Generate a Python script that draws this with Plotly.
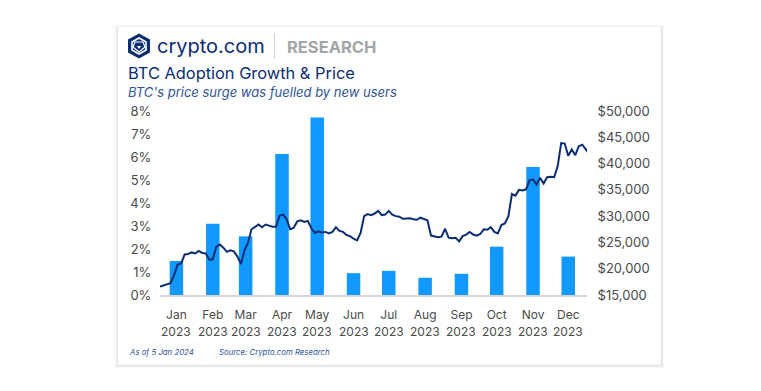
import pandas as pd
import plotly.graph_objects as go

months = ["Jan", "Feb", "Mar", "Apr", "May", "Jun", "Jul", "Aug", "Sep", "Oct", "Nov", "Dec"]
bar_dates = ["2023-01-15", "2023-02-15", "2023-03-15", "2023-04-15", "2023-05-15", "2023-06-15",
             "2023-07-15", "2023-08-15", "2023-09-15", "2023-10-15", "2023-11-15", "2023-12-15"]
adoption = [1.48, 3.1, 2.55, 6.13, 7.72, 0.95, 1.05, 0.75, 0.92, 2.1, 5.57, 1.67]
price = [16600, 16800, 17000, 17250, 18800, 20800, 21000, 22700, 22800, 23100, 22900, 23400,
         23000, 22900, 21700, 21800, 24200, 24600, 24000, 23200, 23500, 23300, 22300, 20900,
         23500, 24900, 27500, 27900, 28400, 27900, 28400, 28200, 28000, 28000, 30100, 30300,
         29400, 27500, 27800, 29000, 29200, 28900, 29100, 27700, 26800, 27100, 26900, 27000,
         26700, 27000, 27900, 27200, 27000, 26400, 26200, 25700, 25400, 26800, 30000, 30400,
         30200, 30500, 31000, 30200, 30300, 31000, 30300, 30000, 29900, 29500, 29500, 29600,
         29400, 29300, 29700, 29500, 29200, 26300, 26100, 26000, 26100, 27600, 25900, 25800,
         25900, 25200, 26200, 26500, 27000, 26500, 26300, 26600, 27500, 27400, 27900, 27000,
         26700, 28300, 28600, 30000, 34200, 33900, 35000, 34900, 35100, 36800, 37000, 36000,
         37300, 36200, 37400, 37500, 37400, 39500, 43900, 43800, 41500, 42700, 41600, 43300,
         43600, 42600, 41800]
price_dates = pd.date_range("2023-01-01", periods=len(price), freq="3D")
pct_ticks = [0, 1, 2, 3, 4, 5, 6, 7, 8]
usd_ticks = [15000, 20000, 25000, 30000, 35000, 40000, 45000, 50000]

FONT = "Inter, Lato, sans-serif"
L, R, T, B = 160, 587, 111, 295
W, H = 761, 391
px = lambda x: (x - L) / (R - L)
py = lambda y: (B - y) / (B - T)

fig = go.Figure()
fig.add_trace(go.Bar(x=bar_dates, y=adoption, marker_color="#1199FF", marker_line_width=0,
                     width=11.5 * 86400000, yaxis="y"))
fig.add_trace(go.Scatter(x=price_dates, y=price, mode="lines", yaxis="y2",
                         line=dict(color="#0B2D72", width=2)))

shapes = []
def rect(x0, y0, x1, y1, fill, line="rgba(0,0,0,0)", width=0):
    shapes.append(dict(type="rect", xref="paper", yref="paper", layer="below",
                       x0=px(x0), x1=px(x1), y0=py(y0), y1=py(y1), fillcolor=fill,
                       line=dict(color=line, width=width)))

for i, a in zip(range(4, 0, -1), [0.012, 0.02, 0.03, 0.05]):
    rect(118 - i, 27 - i + 1, 661 + i, 365 + i, f"rgba(0,0,0,{a})")
rect(118, 27, 661, 365, "white")

def path(points, fill="rgba(0,0,0,0)", line="rgba(0,0,0,0)", width=0, close=True):
    d = "M" + " L".join(f"{px(x):.5f},{py(y):.5f}" for x, y in points) + (" Z" if close else "")
    shapes.append(dict(type="path", xref="paper", yref="paper", layer="below", path=d,
                       fillcolor=fill, line=dict(color=line, width=width)))

path([(139, 33.5), (150, 39.5), (150, 52.5), (139, 58.5), (128, 52.5), (128, 39.5)], fill="#0B2D72")
path([(139, 38), (146, 42), (146, 50), (139, 54), (132, 50), (132, 42)], line="white", width=1.6)
path([(135, 42), (143, 42), (145, 47), (139, 52), (133, 47)], fill="#0B2D72", line="white", width=1.2)
path([(137, 46), (141, 46), (139, 49)], fill="white")
shapes.append(dict(type="line", xref="paper", yref="paper", layer="below",
                   x0=px(274.5), x1=px(274.5), y0=py(33), y1=py(59), line=dict(color="#D0D0D0", width=1)))

def label(x, y, text, size, color, anchor="left", **kw):
    return dict(xref="paper", yref="paper", x=px(x), y=py(y), text=text, showarrow=False, xanchor=anchor,
                yanchor="middle", font=dict(family=FONT, size=size, color=color), **kw)

annotations = [
    label(155, 46, "crypto.com", 20, "#0B2D72"),
    label(285, 47, "<b>RESEARCH</b>", 16.5, "#A3A6A8"),
    label(125.5, 73, "BTC Adoption Growth &amp; Price", 16.4, "#0B2D72"),
    label(125.5, 92, "<i>BTC's price surge was fuelled by new users</i>", 13, "#2F5496"),
    label(127, 352, "<i>As of 5 Jan 2024</i>", 7.8, "#2F5496"),
    label(217, 352, "<i>Source: Crypto.com Research</i>", 7.8, "#2F5496"),
]
for d in bar_dates:
    annotations.append(dict(xref="x", yref="paper", x=d, y=py(331.5), text="2023", showarrow=False,
                            xanchor="center", yanchor="middle", font=dict(family=FONT, size=12, color="#4A4A4A")))

fig.update_layout(
    width=W, height=H, autosize=False, margin=dict(l=L, r=W - R, t=T, b=H - B),
    paper_bgcolor="white", plot_bgcolor="rgba(0,0,0,0)", showlegend=False,
    font=dict(family=FONT, size=13, color="#4A4A4A"), shapes=shapes, annotations=annotations,
    xaxis=dict(type="date", range=["2023-01-01", "2023-12-31"], tickmode="array", tickvals=bar_dates,
               ticktext=months, tickangle=0, tickfont=dict(size=12), showgrid=False, zeroline=False,
               showline=True, linecolor="#D5D5D5", linewidth=1.5,
               ticks="outside", ticklen=8, tickcolor="rgba(0,0,0,0)"),
    yaxis=dict(range=[0, 8], tickmode="array", tickvals=pct_ticks, ticktext=[f"{v}%" for v in pct_ticks],
               showgrid=False, zeroline=False, ticks="outside", ticklen=5, tickcolor="rgba(0,0,0,0)"),
    yaxis2=dict(range=[15000, 50000], overlaying="y", side="right", tickmode="array", tickvals=usd_ticks,
                ticktext=[f"${v:,}" for v in usd_ticks], showgrid=False, zeroline=False,
                ticks="outside", ticklen=7, tickcolor="rgba(0,0,0,0)"),
)
fig.write_html("out.html", config={"displayModeBar": False}, post_script="document.body.style.margin='0';")
